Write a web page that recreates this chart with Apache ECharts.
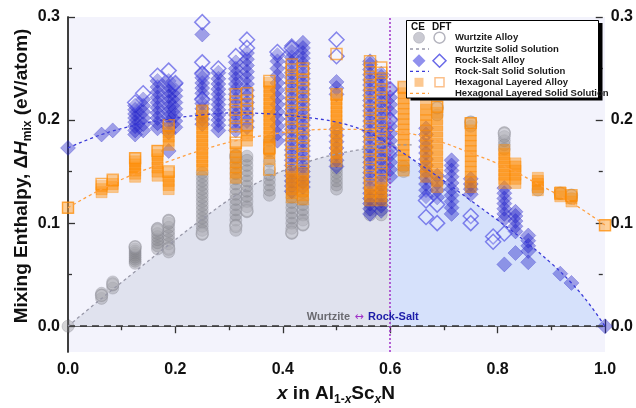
<!DOCTYPE html>
<html><head><meta charset="utf-8">
<script src="https://cdn.jsdelivr.net/npm/echarts@6/dist/echarts.min.js"></script>
<style>html,body{margin:0;padding:0;background:#fff}#c{width:636px;height:408px}</style>
</head><body><div id="c"></div>
<script>
const FONT = '"Liberation Sans", Arial, sans-serif';

// axis ticks
const xTickValues = [0, 0.2, 0.4, 0.6, 0.8, 1.0];
const yTickValues = [0, 0.1, 0.2, 0.3];
const phaseBoundaryX = 0.6;

// solid-solution curves
const wzCurveX = [0, 0.0625, 0.125, 0.1875, 0.25, 0.3125, 0.375, 0.4375, 0.5, 0.5625, 0.6, 0.64];
const wzCurveY = [0, 0.027, 0.053, 0.079, 0.104, 0.127, 0.145, 0.158, 0.167, 0.173, 0.176, 0.176];
const rsCurveX = [0, 0.0625, 0.125, 0.1875, 0.25, 0.3125, 0.375, 0.4375, 0.5, 0.55, 0.6, 0.65, 0.7, 0.75, 0.8, 0.85, 0.9, 0.9375, 0.97, 1.0];
const rsCurveY = [0.173, 0.186, 0.195, 0.201, 0.205, 0.207, 0.206, 0.203, 0.198, 0.19, 0.176, 0.159, 0.141, 0.122, 0.103, 0.083, 0.061, 0.042, 0.022, 0];
const hexCurveX = [0, 0.0625, 0.125, 0.1875, 0.25, 0.3125, 0.375, 0.4375, 0.5, 0.5625, 0.625, 0.6875, 0.75, 0.8125, 0.875, 0.9375, 1.0];
const hexCurveY = [0.115, 0.133, 0.148, 0.16, 0.171, 0.18, 0.186, 0.19, 0.191, 0.191, 0.188, 0.18, 0.168, 0.155, 0.138, 0.12, 0.098];

// Wurtzite alloy: [x, [ΔH values]]
const wurtziteCE = [
  [0, [0]],
  [0.0625, [0.027, 0.03, 0.032]],
  [0.0833, [0.037, 0.04, 0.043]],
  [0.125, [0.061, 0.063, 0.065, 0.067, 0.069, 0.071, 0.073, 0.075, 0.077]],
  [0.1667, [0.075, 0.078, 0.081, 0.084, 0.087, 0.09, 0.093, 0.095]],
  [0.1875, [0.072, 0.076, 0.08, 0.084, 0.088, 0.092, 0.096, 0.1, 0.103]],
  [0.25, [0.089, 0.093, 0.097, 0.101, 0.105, 0.109, 0.113, 0.117, 0.121, 0.125, 0.129, 0.133, 0.137, 0.141, 0.145, 0.149]],
  [0.3125, [0.093, 0.098, 0.103, 0.108, 0.113, 0.118, 0.123, 0.128, 0.133, 0.138, 0.143, 0.148, 0.153, 0.158, 0.163, 0.166]],
  [0.3333, [0.111, 0.116, 0.121, 0.126, 0.131, 0.136, 0.141, 0.146, 0.151, 0.156, 0.161, 0.165]],
  [0.375, [0.127, 0.132, 0.137, 0.142, 0.147, 0.152, 0.16, 0.17, 0.18]],
  [0.4167, [0.09, 0.095, 0.1, 0.105, 0.11, 0.115, 0.12, 0.125, 0.13, 0.14, 0.15]],
  [0.4375, [0.098, 0.103, 0.108, 0.113, 0.118, 0.123, 0.13, 0.14, 0.15]],
  [0.5, [0.133, 0.137, 0.141, 0.145, 0.149, 0.153, 0.157]],
  [0.5625, [0.108, 0.113, 0.118, 0.123]],
  [0.5833, [0.108, 0.113, 0.118, 0.123]],
  [0.625, [0.15, 0.155]],
  [0.6875, [0.205, 0.212]],
  [0.75, [0.135, 0.194, 0.198]],
  [0.8125, [0.172, 0.176, 0.18, 0.184, 0.188]],
  [0.875, [0.132]],
  [0.9167, [0.129]],
  [0.9375, [0.124, 0.127]]
];
const wurtziteDFT = [
  [0.0625, [0.03]], [0.0833, [0.041]], [0.125, [0.077]], [0.1667, [0.094]],
  [0.1875, [0.102, 0.075]], [0.25, [0.09]], [0.3125, [0.097, 0.165]], [0.3333, [0.112]],
  [0.4167, [0.091]], [0.4375, [0.099]], [0.5, [0.157]], [0.6875, [0.212]],
  [0.75, [0.198]], [0.8125, [0.187]], [0.9167, [0.129]], [0.9375, [0.127]]
];

// Rock-salt alloy
const rocksaltCE = [
  [0, [0.173]],
  [0.0625, [0.186]],
  [0.0833, [0.19]],
  [0.125, [0.186, 0.19, 0.194, 0.198, 0.202, 0.206, 0.21, 0.214]],
  [0.14, [0.19, 0.196, 0.202, 0.208, 0.214, 0.22]],
  [0.1667, [0.192, 0.197, 0.202, 0.207, 0.212, 0.217, 0.222, 0.227, 0.232, 0.238]],
  [0.1875, [0.17, 0.188, 0.193, 0.198, 0.203, 0.208, 0.213, 0.218, 0.223, 0.228, 0.233, 0.238]],
  [0.2, [0.193, 0.199, 0.205, 0.211, 0.217, 0.223, 0.229, 0.235]],
  [0.25, [0.283, 0.196, 0.201, 0.206, 0.211, 0.216, 0.221, 0.226, 0.231, 0.236, 0.241, 0.246]],
  [0.28, [0.19, 0.195, 0.2, 0.205, 0.21, 0.215, 0.22, 0.225, 0.23, 0.235, 0.24, 0.246]],
  [0.3125, [0.19, 0.195, 0.2, 0.205, 0.21, 0.215, 0.22, 0.225, 0.23, 0.235, 0.24, 0.245, 0.25, 0.256]],
  [0.3333, [0.193, 0.199, 0.205, 0.211, 0.217, 0.223, 0.229, 0.235, 0.241, 0.247, 0.253, 0.259, 0.265]],
  [0.39, [0.18, 0.187, 0.194, 0.201, 0.208, 0.215, 0.222, 0.229, 0.236, 0.243, 0.25, 0.257, 0.263]],
  [0.4167, [0.131, 0.136, 0.141, 0.146, 0.151, 0.156, 0.161, 0.166, 0.171, 0.176, 0.181, 0.186, 0.191, 0.196, 0.201, 0.206, 0.211, 0.216, 0.221, 0.226, 0.231, 0.236, 0.241, 0.246, 0.251, 0.256, 0.261, 0.266, 0.272]],
  [0.4375, [0.135, 0.14, 0.145, 0.15, 0.155, 0.16, 0.165, 0.17, 0.175, 0.18, 0.185, 0.19, 0.195, 0.2, 0.205, 0.21, 0.215, 0.22, 0.225, 0.23, 0.235, 0.24, 0.245, 0.25, 0.255, 0.26, 0.265, 0.27, 0.275]],
  [0.5, [0.155, 0.161, 0.167, 0.173, 0.179, 0.185, 0.191, 0.225, 0.231, 0.237]],
  [0.5625, [0.109, 0.114, 0.119, 0.124, 0.129, 0.134, 0.139, 0.144, 0.149, 0.154, 0.159, 0.164, 0.169, 0.174, 0.179, 0.184, 0.189, 0.194, 0.199, 0.204, 0.209, 0.214, 0.219, 0.224, 0.229, 0.234, 0.239, 0.244, 0.249, 0.254, 0.257]],
  [0.5833, [0.112, 0.117, 0.122, 0.127, 0.132, 0.137, 0.142, 0.147, 0.152, 0.157, 0.162, 0.167, 0.172, 0.177, 0.182, 0.187, 0.192, 0.197, 0.202, 0.207, 0.212, 0.217, 0.222, 0.227, 0.232, 0.237, 0.242, 0.245]],
  [0.6, [0.145, 0.152, 0.159, 0.166, 0.173, 0.18, 0.187, 0.194, 0.201, 0.208, 0.215, 0.222, 0.229]],
  [0.6667, [0.126, 0.132, 0.138, 0.144, 0.15, 0.156, 0.162, 0.168, 0.174, 0.18, 0.186, 0.192]],
  [0.6875, [0.125, 0.132, 0.139, 0.146]],
  [0.7143, [0.109, 0.115, 0.121, 0.127, 0.133, 0.139, 0.145, 0.151, 0.156, 0.161]],
  [0.75, [0.128, 0.133, 0.138, 0.143]],
  [0.8125, [0.06, 0.104, 0.109, 0.114, 0.119, 0.124, 0.129, 0.134]],
  [0.8333, [0.071, 0.092, 0.097, 0.102, 0.107, 0.111]],
  [0.8571, [0.062, 0.073, 0.078, 0.083, 0.088]],
  [0.9167, [0.051]],
  [0.9375, [0.042]],
  [1.0, [0]]
];
const rocksaltDFT = [
  [0.125, [0.217]], [0.14, [0.226]], [0.1667, [0.243]], [0.1875, [0.248]], [0.2, [0.236]],
  [0.25, [0.295, 0.256, 0.245, 0.22]], [0.28, [0.25]], [0.3125, [0.262]], [0.3333, [0.278, 0.27]],
  [0.39, [0.266]], [0.4167, [0.27]], [0.5, [0.278, 0.262]], [0.6, [0.23, 0.2, 0.17]],
  [0.6667, [0.122, 0.106]], [0.6875, [0.118, 0.1]], [0.75, [0.107, 0.1]],
  [0.7917, [0.087, 0.082]], [0.8125, [0.09]]
];

// Hexagonal layered alloy
const hexCE = [
  [0, [0.115]],
  [0.0625, [0.13, 0.133, 0.136]],
  [0.0833, [0.135, 0.138, 0.141]],
  [0.125, [0.145, 0.148, 0.151, 0.154, 0.157, 0.16, 0.163]],
  [0.1667, [0.146, 0.15, 0.154, 0.158, 0.162, 0.166, 0.17]],
  [0.1875, [0.133, 0.137, 0.141, 0.145, 0.149, 0.176, 0.18, 0.184, 0.188, 0.192]],
  [0.25, [0.152, 0.156, 0.16, 0.164, 0.168, 0.172, 0.176, 0.18, 0.184, 0.188, 0.192, 0.196, 0.2, 0.204, 0.208]],
  [0.3125, [0.144, 0.149, 0.154, 0.159, 0.164, 0.169, 0.174]],
  [0.3333, [0.18, 0.185, 0.19]],
  [0.375, [0.164, 0.168, 0.172, 0.176, 0.18, 0.184, 0.188, 0.192, 0.196, 0.2, 0.204, 0.208, 0.212, 0.216, 0.22, 0.224, 0.228, 0.232, 0.236]],
  [0.4167, [0.125, 0.129, 0.133, 0.137, 0.141, 0.145, 0.149]],
  [0.4375, [0.123, 0.127, 0.131, 0.135, 0.139, 0.143, 0.147]],
  [0.5, [0.16, 0.164, 0.168, 0.172, 0.176, 0.18, 0.184, 0.188, 0.192, 0.196, 0.2, 0.204, 0.208, 0.212, 0.216, 0.22, 0.224]],
  [0.5625, [0.122, 0.126, 0.13, 0.134]],
  [0.5833, [0.122, 0.126, 0.13, 0.134, 0.138]],
  [0.625, [0.151, 0.156, 0.161, 0.166, 0.171, 0.176, 0.181, 0.186, 0.191, 0.196, 0.201, 0.206, 0.211, 0.216, 0.221, 0.226, 0.231]],
  [0.6667, [0.145, 0.15, 0.155, 0.16, 0.165, 0.17, 0.175, 0.18, 0.185, 0.19, 0.195, 0.2, 0.205, 0.21, 0.216]],
  [0.6875, [0.135, 0.141, 0.147, 0.153, 0.159, 0.165, 0.171, 0.177, 0.183, 0.189, 0.195, 0.201, 0.207, 0.213]],
  [0.75, [0.135, 0.14, 0.145, 0.15, 0.155, 0.16, 0.165, 0.17, 0.175, 0.18, 0.185, 0.19, 0.197]],
  [0.8125, [0.139, 0.143, 0.147, 0.151, 0.155, 0.159, 0.163, 0.167, 0.171]],
  [0.8333, [0.139, 0.143, 0.147, 0.151, 0.155, 0.158]],
  [0.875, [0.132, 0.135, 0.138, 0.141, 0.144]],
  [0.9167, [0.126, 0.128, 0.13]],
  [0.9375, [0.121, 0.124, 0.126]],
  [1.0, [0.098]]
];
const hexDFT = [
  [0, [0.115]], [0.0625, [0.138]], [0.0833, [0.142]], [0.125, [0.163]], [0.1667, [0.17]],
  [0.1875, [0.15, 0.195]], [0.25, [0.209]],
  [0.3125, [0.178, 0.186, 0.194, 0.202, 0.21, 0.218, 0.225]],
  [0.3333, [0.195, 0.203, 0.211, 0.219, 0.226]],
  [0.375, [0.238, 0.173, 0.152]],
  [0.4167, [0.153, 0.161, 0.169, 0.177, 0.185, 0.193, 0.201, 0.209, 0.217, 0.225, 0.233, 0.241, 0.249, 0.254]],
  [0.4375, [0.151, 0.159, 0.167, 0.175, 0.183, 0.191, 0.199, 0.207, 0.215, 0.223, 0.231, 0.239, 0.247, 0.25]],
  [0.5, [0.264, 0.225]],
  [0.5625, [0.138, 0.146, 0.154, 0.162, 0.17, 0.178, 0.186, 0.194, 0.202, 0.21, 0.218, 0.226, 0.234, 0.242, 0.25, 0.257]],
  [0.5833, [0.142, 0.15, 0.158, 0.166, 0.174, 0.182, 0.19, 0.198, 0.206, 0.214, 0.222, 0.23, 0.238, 0.246, 0.251]],
  [0.625, [0.232]], [0.6875, [0.213]], [0.75, [0.197]],
  [0.9167, [0.129]], [0.9375, [0.127]], [1.0, [0.098]]
];

// legend labels
const legendLabels = ['Wurtzite Alloy', 'Wurtzite Solid Solution', 'Rock-Salt Alloy',
  'Rock-Salt Solid Solution', 'Hexagonal Layered Alloy', 'Hexagonal Layered Solid Solution'];

function expand(cols) {
  const out = [];
  cols.forEach(function (c) { c[1].forEach(function (y) { out.push([c[0], y]); }); });
  return out;
}
function zip(xs, ys) { return xs.map(function (x, i) { return [x, ys[i]]; }); }

const chart = echarts.init(document.getElementById('c'), null, { renderer: 'canvas' });

const GRID = { left: 68, right: 31, top: 17, bottom: 56 };
const Y0 = 17 + 335 * (0.3 / 0.325); // pixel of y=0

const frameAxisLine = { show: true, lineStyle: { color: '#333', width: 1.5 } };
const labelStyle = { fontFamily: FONT, fontWeight: 'bold', fontSize: 16, color: '#111' };

function scatter(name, cols, symbol, size, itemStyle, z) {
  return { type: 'scatter', name: name, data: expand(cols), symbol: symbol, symbolSize: size,
    itemStyle: itemStyle, z: z, silent: true, xAxisIndex: 0, yAxisIndex: 0 };
}
function curve(xs, ys, color, z) {
  return { type: 'line', data: zip(xs, ys), smooth: 0.4, symbol: 'none', silent: true, z: z,
    lineStyle: { color: color, width: 1.3, type: [3, 3] }, xAxisIndex: 0, yAxisIndex: 0 };
}
function area(xs, ys, lo, hi, color) {
  const pts = zip(xs, ys).filter(function (p) { return p[0] >= lo - 1e-9 && p[0] <= hi + 1e-9; });
  return { type: 'line', data: pts, smooth: 0.4, symbol: 'none', silent: true, z: 1,
    lineStyle: { width: 0, color: color }, areaStyle: { color: color, opacity: 1 },
    xAxisIndex: 0, yAxisIndex: 0 };
}

const gArea = area(wzCurveX, wzCurveY, 0, phaseBoundaryX, '#e0e2ee');
const bArea = area(rsCurveX, rsCurveY, phaseBoundaryX, 1, '#d6e1fb');
bArea.markLine = {
  silent: true, symbol: 'none', label: { show: false },
  data: [
    { xAxis: phaseBoundaryX, lineStyle: { color: '#a030c8', type: [2, 2], width: 1.5 } },
    { yAxis: 0, lineStyle: { color: '#333', type: [7, 5], width: 1.5 } }
  ]
};

// legend graphic
const LX = 406.5, LY = 20.5, LW = 192, LH = 77.5;
const rowY = [37.7, 49, 60.7, 71.3, 82.3, 93.3];
const cx1 = 419, cx2 = 439.5;
const legendEls = [
  { type: 'rect', shape: { x: LX + 4, y: LY + 2.5, width: LW, height: LH }, style: { fill: '#000' }, z: 100 },
  { type: 'rect', shape: { x: LX, y: LY, width: LW, height: LH }, style: { fill: '#fff', stroke: '#000', lineWidth: 1 }, z: 101 },
  { type: 'text', x: 411, y: 27.7, style: { text: 'CE', font: 'bold 10px ' + FONT, fill: '#111', verticalAlign: 'middle' }, z: 102 },
  { type: 'text', x: 432, y: 27.7, style: { text: 'DFT', font: 'bold 10px ' + FONT, fill: '#111', verticalAlign: 'middle' }, z: 102 },
  { type: 'circle', shape: { cx: cx1, cy: rowY[0], r: 5.5 }, style: { fill: 'rgba(150,150,165,0.5)', stroke: 'rgba(150,150,165,0.4)' }, z: 102 },
  { type: 'circle', shape: { cx: cx2, cy: rowY[0], r: 5.5 }, style: { fill: '#fff', stroke: '#b4b4be', lineWidth: 1.5 }, z: 102 },
  { type: 'line', shape: { x1: 410, y1: rowY[1], x2: 429, y2: rowY[1] }, style: { stroke: '#9898a8', lineWidth: 1.3, lineDash: [3, 3] }, z: 102 },
  { type: 'polygon', shape: { points: [[cx1, rowY[2] - 6.5], [cx1 + 6.5, rowY[2]], [cx1, rowY[2] + 6.5], [cx1 - 6.5, rowY[2]]] }, style: { fill: 'rgba(70,70,225,0.6)' }, z: 102 },
  { type: 'polygon', shape: { points: [[cx2, rowY[2] - 6.5], [cx2 + 6.5, rowY[2]], [cx2, rowY[2] + 6.5], [cx2 - 6.5, rowY[2]]] }, style: { fill: '#fff', stroke: '#6a6ae8', lineWidth: 1.5 }, z: 102 },
  { type: 'line', shape: { x1: 410, y1: rowY[3], x2: 429, y2: rowY[3] }, style: { stroke: '#3a3ad8', lineWidth: 1.3, lineDash: [3, 3] }, z: 102 },
  { type: 'rect', shape: { x: cx1 - 4.5, y: rowY[4] - 4.5, width: 9, height: 9 }, style: { fill: '#fcc890' }, z: 102 },
  { type: 'rect', shape: { x: cx2 - 4.5, y: rowY[4] - 4.5, width: 9, height: 9 }, style: { fill: '#fff', stroke: '#fcc08a', lineWidth: 1.5 }, z: 102 },
  { type: 'line', shape: { x1: 410, y1: rowY[5], x2: 429, y2: rowY[5] }, style: { stroke: '#ffa040', lineWidth: 1.3, lineDash: [3, 3] }, z: 102 }
];
legendLabels.forEach(function (t, i) {
  legendEls.push({ type: 'text', x: 455, y: rowY[i], z: 102,
    style: { text: t, font: 'bold 9.5px ' + FONT, fill: '#1a1a1a', verticalAlign: 'middle' } });
});

const titleEls = [
  { type: 'text', x: 22, y: 176, rotation: Math.PI / 2, z: 50,
    style: {
      text: '{n|Mixing Enthalpy, Δ}{i|H}{s|mix}{n| (eV/atom)}',
      align: 'center', verticalAlign: 'middle',
      rich: {
        n: { font: 'bold 19px ' + FONT, fill: '#111', lineHeight: 24 },
        i: { font: 'italic bold 19px ' + FONT, fill: '#111', lineHeight: 24 },
        s: { font: 'bold 12px ' + FONT, fill: '#111', verticalAlign: 'bottom', lineHeight: 24 }
      }
    } },
  { type: 'text', x: 336, y: 394, z: 50,
    style: {
      text: '{i|x}{n| in Al}{s|1-}{si|x}{n|Sc}{si|x}{n|N}',
      align: 'center', verticalAlign: 'middle',
      rich: {
        n: { font: 'bold 19px ' + FONT, fill: '#111', lineHeight: 24 },
        i: { font: 'italic bold 19px ' + FONT, fill: '#111', lineHeight: 24 },
        s: { font: 'bold 12px ' + FONT, fill: '#111', verticalAlign: 'bottom', lineHeight: 24 },
        si: { font: 'italic bold 12px ' + FONT, fill: '#111', verticalAlign: 'bottom', lineHeight: 24 }
      }
    } },
  { type: 'text', x: 350, y: 317, z: 50, style: { text: 'Wurtzite', font: 'bold 11px ' + FONT, fill: '#6a6a70', align: 'right', verticalAlign: 'middle' } },
  { type: 'text', x: 359, y: 317, z: 50, style: { text: '↔', font: '11px "DejaVu Sans", sans-serif', fill: '#a030c8', align: 'center', verticalAlign: 'middle' } },
  { type: 'text', x: 368, y: 317, z: 50, style: { text: 'Rock-Salt', font: 'bold 11px ' + FONT, fill: '#1c1ca8', align: 'left', verticalAlign: 'middle' } }
];

const option = {
  animation: false,
  backgroundColor: '#fff',
  grid: [
    Object.assign({ show: true, backgroundColor: '#f3f3fc', borderWidth: 0 }, GRID),
    { left: GRID.left, right: GRID.right, top: GRID.top, bottom: 408 - Y0 }
  ],
  xAxis: [
    { gridIndex: 0, type: 'value', position: 'bottom', min: xTickValues[0], max: xTickValues[xTickValues.length - 1], interval: 0.2,
      axisLine: frameAxisLine, splitLine: { show: false },
      axisTick: { inside: true, length: 7, lineStyle: { color: '#333', width: 1.3 } },
      minorTick: { show: true, splitNumber: 2, length: 4, lineStyle: { color: '#333', width: 1.3 } },
      axisLabel: Object.assign({ margin: 10, formatter: function (v) { return v.toFixed(1); } }, labelStyle) },
    { gridIndex: 0, type: 'value', position: 'top', min: 0, max: 1, interval: 0.2,
      axisLine: frameAxisLine, splitLine: { show: false },
      axisTick: { inside: true, length: 7, lineStyle: { color: '#333', width: 1.3 } },
      minorTick: { show: true, splitNumber: 2, length: 4, lineStyle: { color: '#333', width: 1.3 } },
      axisLabel: { show: false } },
    { gridIndex: 1, type: 'value', show: false, min: 0, max: 1 }
  ],
  yAxis: [
    { gridIndex: 0, type: 'value', position: 'left', min: -0.025, max: 0.3,
      axisLine: frameAxisLine, axisTick: { show: false }, axisLabel: { show: false }, splitLine: { show: false } },
    { gridIndex: 0, type: 'value', position: 'right', min: -0.025, max: 0.3,
      axisLine: frameAxisLine, axisTick: { show: false }, axisLabel: { show: false }, splitLine: { show: false } },
    { gridIndex: 1, type: 'value', position: 'left', min: yTickValues[0], max: yTickValues[yTickValues.length - 1], interval: 0.1,
      axisLine: { show: false }, splitLine: { show: false },
      axisTick: { inside: true, length: 7, lineStyle: { color: '#333', width: 1.3 } },
      minorTick: { show: true, splitNumber: 2, length: 4, lineStyle: { color: '#333', width: 1.3 } },
      axisLabel: Object.assign({ margin: 8, formatter: function (v) { return v.toFixed(1); } }, labelStyle) },
    { gridIndex: 1, type: 'value', position: 'right', min: 0, max: 0.3, interval: 0.1,
      axisLine: { show: false }, splitLine: { show: false },
      axisTick: { inside: true, length: 7, lineStyle: { color: '#333', width: 1.3 } },
      minorTick: { show: true, splitNumber: 2, length: 4, lineStyle: { color: '#333', width: 1.3 } },
      axisLabel: Object.assign({ margin: 8, formatter: function (v) { return v.toFixed(1); } }, labelStyle) }
  ],
  series: [
    gArea, bArea,
    scatter('Wurtzite CE', wurtziteCE, 'circle', 12, { color: 'rgba(135,135,142,0.45)', borderColor: 'rgba(120,120,128,0.35)', borderWidth: 1 }, 2),
    scatter('Wurtzite DFT', wurtziteDFT, 'circle', 12, { color: 'rgba(240,240,245,0.3)', borderColor: 'rgba(150,150,158,0.6)', borderWidth: 1.5 }, 2),
    scatter('Rock-Salt CE', rocksaltCE, 'diamond', 15, { color: 'rgba(30,30,200,0.5)', borderColor: 'rgba(30,30,200,0.35)', borderWidth: 1 }, 3),
    scatter('Rock-Salt DFT', rocksaltDFT, 'diamond', 15, { color: 'rgba(255,255,255,0.25)', borderColor: 'rgba(60,60,225,0.75)', borderWidth: 1.5 }, 3),
    scatter('Hexagonal CE', hexCE, 'rect', 11, { color: 'rgba(255,140,0,0.55)', borderColor: 'rgba(255,140,0,0.4)', borderWidth: 1 }, 4),
    scatter('Hexagonal DFT', hexDFT, 'rect', 11, { color: 'rgba(255,255,255,0.1)', borderColor: 'rgba(255,140,0,0.8)', borderWidth: 1.5 }, 4),
    curve(wzCurveX, wzCurveY, '#9898a8', 5),
    curve(rsCurveX, rsCurveY, '#3a3ad8', 5),
    curve(hexCurveX, hexCurveY, '#ffa040', 5)
  ],
  graphic: legendEls.concat(titleEls)
};
chart.setOption(option);
</script>
</body></html>
